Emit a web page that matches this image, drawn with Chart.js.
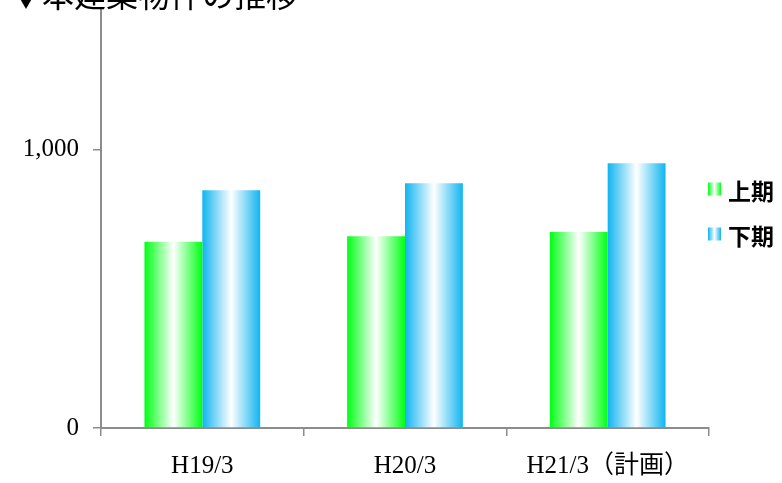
<!DOCTYPE html>
<html>
<head>
<meta charset="utf-8">
<script src="https://cdn.jsdelivr.net/npm/chart.js@4/dist/chart.umd.min.js"></script>
<style>
  html, body { margin: 0; padding: 0; background: #ffffff; overflow: hidden; }
  #wrap { position: relative; width: 782px; height: 483px; }
</style>
</head>
<body>
<div id="wrap"><canvas id="chart" width="782" height="483"></canvas></div>
<script>
// Data
const titleText = '▼本建築物件の推移';
const categories = ['H19/3', 'H20/3', 'H21/3（計画）'];
const seriesNames = ['上期', '下期'];
const firstHalf = [668, 688, 703];
const secondHalf = [853, 878, 950];
const yTickValues = [0, 1000];

// Colours: each bar fades from its edge colour to white at the centre
const edgeColors = ['#00ff14', '#10b4f0'];
const midColor = '#ffffff';

const CATEGORY_PCT = 0.571;

function barGradient(ctx, x0, x1, edge) {
  const g = ctx.createLinearGradient(x0, 0, x1, 0);
  g.addColorStop(0, edge);
  g.addColorStop(0.5, midColor);
  g.addColorStop(1, edge);
  return g;
}

// Scriptable fill: gradient spans the bar's own width, taken from the x scale
function barFill(context) {
  const chart = context.chart;
  const xs = chart.scales.x;
  const edge = edgeColors[context.datasetIndex];
  if (!xs || context.type !== 'data') return edge;
  const n = chart.data.datasets.length;
  const slot = (xs.width / categories.length) * CATEGORY_PCT / n;
  const center = xs.getPixelForValue(context.dataIndex);
  const x0 = center - slot * n / 2 + slot * context.datasetIndex;
  if (!isFinite(x0) || !isFinite(slot) || slot <= 0) return edge;
  return barGradient(chart.ctx, x0, x0 + slot, edge);
}

// Title, drawn partly above the top edge
const titlePlugin = {
  id: 'topTitle',
  afterDraw(chart) {
    const ctx = chart.ctx;
    ctx.save();
    ctx.font = '32px "Noto Sans CJK JP"';
    ctx.fillStyle = '#000000';
    ctx.textBaseline = 'alphabetic';
    ctx.textAlign = 'left';
    ctx.fillText(titleText, 10, 7);
    ctx.restore();
  }
};

// Legend on the right with small gradient swatches
const sideLegend = {
  id: 'sideLegend',
  afterDraw(chart) {
    const ctx = chart.ctx;
    const area = chart.chartArea;
    const box = 13;
    ctx.save();
    ctx.font = 'bold 23px "Noto Sans CJK JP"';
    ctx.textBaseline = 'middle';
    ctx.textAlign = 'left';
    chart.data.datasets.forEach((ds, i) => {
      const cy = 189 + i * 45;
      const x0 = area.right - 1;
      ctx.fillStyle = barGradient(ctx, x0, x0 + box, edgeColors[i]);
      ctx.fillRect(x0, cy - box / 2, box, box);
      ctx.fillStyle = '#000000';
      ctx.fillText(ds.label, x0 + box + 7, cy + 2);
    });
    ctx.restore();
  }
};

new Chart(document.getElementById('chart'), {
  type: 'bar',
  data: {
    labels: categories,
    datasets: [
      { label: seriesNames[0], data: firstHalf, backgroundColor: barFill,
        categoryPercentage: CATEGORY_PCT, barPercentage: 1.0, borderWidth: 0 },
      { label: seriesNames[1], data: secondHalf, backgroundColor: barFill,
        categoryPercentage: CATEGORY_PCT, barPercentage: 1.0, borderWidth: 0 }
    ]
  },
  options: {
    responsive: false,
    animation: false,
    devicePixelRatio: 1,
    layout: { padding: { top: 10, right: 73, left: 0, bottom: 0 } },
    plugins: {
      legend: { display: false },
      tooltip: { enabled: false },
      title: { display: false }
    },
    scales: {
      x: {
        offset: true,
        grid: { display: true, offset: true, drawOnChartArea: false, drawTicks: true,
                tickLength: 8, color: '#8c8c8c', lineWidth: 1.5 },
        border: { display: true, color: '#8c8c8c', width: 2 },
        ticks: { color: '#000000', padding: 15, maxRotation: 0,
                 font: { family: '"Liberation Serif", "Noto Sans CJK JP"', size: 25 } },
        afterFit(scale) { scale.height = 55; scale.paddingLeft = 0; scale.paddingRight = 0; }
      },
      y: {
        min: 0,
        max: 1500,
        grid: { display: true, drawOnChartArea: false, drawTicks: true,
                tickLength: 8, color: '#8c8c8c', lineWidth: 1.5 },
        border: { display: true, color: '#8c8c8c', width: 2 },
        ticks: { color: '#000000', padding: 14, stepSize: 1000,
                 font: { family: '"Liberation Serif"', size: 25 },
                 callback: (v) => v.toLocaleString('en-US') },
        afterBuildTicks(scale) { scale.ticks = yTickValues.map(v => ({ value: v })); },
        afterFit(scale) { scale.width = 101; scale.paddingTop = 0; scale.paddingBottom = 0; }
      }
    }
  },
  plugins: [titlePlugin, sideLegend]
});
</script>
</body>
</html>
